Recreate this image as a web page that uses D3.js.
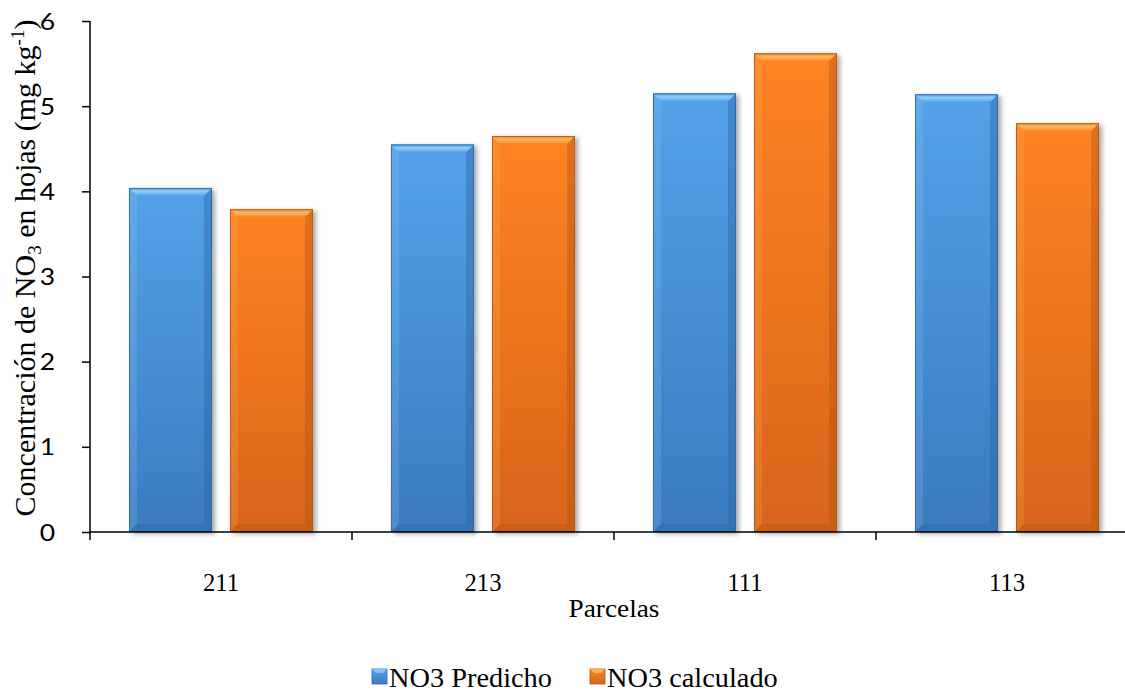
<!DOCTYPE html>
<html>
<head>
<meta charset="utf-8">
<script src="https://cdn.jsdelivr.net/npm/d3@7"></script>
<style>
  html, body { margin: 0; padding: 0; background: #fff; }
  svg { display: block; }
</style>
</head>
<body>
<svg id="chart" width="1125" height="692"></svg>
<script>
// Parcel categories and the two series of nitrate concentration (mg kg-1)
const parcelas = ["211", "213", "111", "113"];
const seriesNames = ["NO3 Predicho", "NO3 calculado"];
const predicho = [4.04, 4.55, 5.15, 5.14];
const calculado = [3.79, 4.65, 5.62, 4.80];
const yTicks = [0, 1, 2, 3, 4, 5, 6];

const svg = d3.select("#chart");
const m = { left: 90, top: 21, bottom: 532, right: 1138 };
const serif = "'Liberation Serif', 'Times New Roman', serif";
const sans = "Lato, 'Open Sans', sans-serif";

const palette = {
  "NO3 Predicho": { top: "#54a1ea", bottom: "#3a7bc0", light: "#94ccf8", dark: "#2c64a0", edge: "#2f64a0" },
  "NO3 calculado": { top: "#ff8322", bottom: "#d8651b", light: "#ffbb66", dark: "#b05214", edge: "#ad521a" }
};

const x = d3.scaleBand().domain(parcelas).range([m.left, m.right]).paddingInner(0).paddingOuter(0);
const xs = d3.scaleBand().domain(seriesNames).range([0, x.bandwidth()]).paddingInner(0.178).paddingOuter(0.386);
const y = d3.scaleLinear().domain([0, 6]).range([m.bottom, m.top]);

const defs = svg.append("defs");
seriesNames.forEach((s, i) => {
  const c = palette[s];
  const g = defs.append("linearGradient").attr("id", "grad" + i)
    .attr("x1", 0).attr("y1", 0).attr("x2", 0).attr("y2", 1);
  g.append("stop").attr("offset", "0%").attr("stop-color", c.top);
  g.append("stop").attr("offset", "100%").attr("stop-color", c.bottom);
  const t = defs.append("linearGradient").attr("id", "topg" + i)
    .attr("x1", 0).attr("y1", 0).attr("x2", 0).attr("y2", 1);
  t.append("stop").attr("offset", "0%").attr("stop-color", c.top);
  t.append("stop").attr("offset", "45%").attr("stop-color", c.light);
  t.append("stop").attr("offset", "100%").attr("stop-color", c.top);
});
const sh = defs.append("filter").attr("id", "shadow")
  .attr("x", "-20%").attr("y", "-10%").attr("width", "140%").attr("height", "120%");
sh.append("feGaussianBlur").attr("in", "SourceAlpha").attr("stdDeviation", 2.5).attr("result", "b");
sh.append("feOffset").attr("in", "b").attr("dx", 3).attr("dy", 2).attr("result", "o");
sh.append("feComponentTransfer").attr("in", "o").attr("result", "s")
  .append("feFuncA").attr("type", "linear").attr("slope", 0.35);
const mg = sh.append("feMerge");
mg.append("feMergeNode").attr("in", "s");
mg.append("feMergeNode").attr("in", "SourceGraphic");

// Bars with bevelled edges
const data = [];
parcelas.forEach((p, i) => {
  data.push({ p, s: seriesNames[0], v: predicho[i], k: 0 });
  data.push({ p, s: seriesNames[1], v: calculado[i], k: 1 });
});

const bev = 8;
const pts = a => a.map(p => p.join(",")).join(" ");
const bars = svg.append("g").selectAll("g.bar").data(data).join("g")
  .attr("class", "bar").attr("filter", "url(#shadow)");
bars.each(function (d) {
  const g = d3.select(this);
  const c = palette[d.s];
  const x0 = x(d.p) + xs(d.s), w = xs.bandwidth();
  const y0 = y(d.v), y1 = y(0);
  const x1 = x0 + w;
  g.append("rect").attr("x", x0).attr("y", y0).attr("width", w).attr("height", y1 - y0)
    .attr("fill", `url(#grad${d.k})`);
  g.append("polygon").attr("points", pts([[x0, y0], [x1, y0], [x1 - bev, y0 + bev], [x0 + bev, y0 + bev]]))
    .attr("fill", `url(#topg${d.k})`);
  g.append("polygon").attr("points", pts([[x0, y0], [x0 + bev, y0 + bev], [x0 + bev, y1 - bev], [x0, y1]]))
    .attr("fill", c.light).attr("opacity", 0.2);
  g.append("polygon").attr("points", pts([[x1, y0], [x1, y1], [x1 - bev, y1 - bev], [x1 - bev, y0 + bev]]))
    .attr("fill", c.dark).attr("opacity", 0.4);
  g.append("polygon").attr("points", pts([[x0, y1], [x1, y1], [x1 - bev, y1 - bev], [x0 + bev, y1 - bev]]))
    .attr("fill", c.dark).attr("opacity", 0.35);
  g.append("rect").attr("x", x0 + 0.5).attr("y", y0 + 0.5).attr("width", w - 1).attr("height", y1 - y0 - 1)
    .attr("fill", "none").attr("stroke", c.edge).attr("stroke-width", 1).attr("opacity", 0.8);
});

// Y axis
const yAxis = svg.append("g").attr("transform", `translate(${m.left},0)`)
  .call(d3.axisLeft(y).tickValues(yTicks).tickSize(8).tickFormat(d3.format("d")));
yAxis.select(".domain").attr("d", `M0,${m.top}V${m.bottom}`);
yAxis.selectAll("line, path").attr("stroke", "#000").attr("stroke-width", 1.5);
yAxis.selectAll("text")
  .attr("x", null).attr("dy", null)
  .attr("transform", "translate(-35,8) scale(1.15,1)")
  .attr("font-family", sans).attr("font-size", 23).attr("fill", "#000");

// X axis
const xAxis = svg.append("g").attr("transform", `translate(0,${m.bottom})`)
  .call(d3.axisBottom(x).tickSize(0));
xAxis.select(".domain").attr("d", `M${m.left},0H${m.right}`).attr("stroke", "#000").attr("stroke-width", 1.5);
xAxis.selectAll("text")
  .attr("y", null).attr("dy", null)
  .attr("transform", "translate(0,59) scale(0.95,1)")
  .attr("font-family", serif).attr("font-size", 26).attr("fill", "#000");
const bounds = parcelas.map(p => x(p)).concat([x(parcelas[parcelas.length - 1]) + x.bandwidth()]);
svg.append("g").selectAll("line").data(bounds).join("line")
  .attr("x1", d => d).attr("x2", d => d).attr("y1", m.bottom).attr("y2", m.bottom + 8)
  .attr("stroke", "#000").attr("stroke-width", 1.5);

// Axis titles
svg.append("text").attr("transform", "translate(614,617) scale(1.05,1)").attr("text-anchor", "middle")
  .attr("font-family", serif).attr("font-size", 26)
  .text("Parcelas");

const yt = svg.append("text").attr("transform", `translate(35,268) rotate(-90)`)
  .attr("text-anchor", "middle")
  .attr("font-family", serif).attr("font-size", 30);
yt.append("tspan").text("Concentración de NO");
yt.append("tspan").attr("font-size", 19).attr("dy", 6).text("3");
yt.append("tspan").attr("dy", -6).text(" en hojas (mg kg");
yt.append("tspan").attr("font-size", 19).attr("dy", -11).text("-1");
yt.append("tspan").attr("dy", 11).text(")");

// Legend
const legendX = [372, 590];
const lg = svg.append("g").selectAll("g").data(seriesNames).join("g")
  .attr("transform", (d, i) => `translate(${legendX[i]},669)`);
lg.append("rect").attr("width", 15).attr("height", 15)
  .attr("fill", (d, i) => `url(#grad${i})`)
  .attr("stroke", d => palette[d].edge).attr("stroke-width", 0.8);
lg.append("polygon").attr("points", "0,0 15,0 11,4 4,4")
  .attr("fill", d => palette[d].light).attr("opacity", 0.8);
lg.append("text").attr("transform", "translate(17,18) scale(1.05,1)")
  .attr("font-family", serif).attr("font-size", 27)
  .text(d => d);
</script>
</body>
</html>
